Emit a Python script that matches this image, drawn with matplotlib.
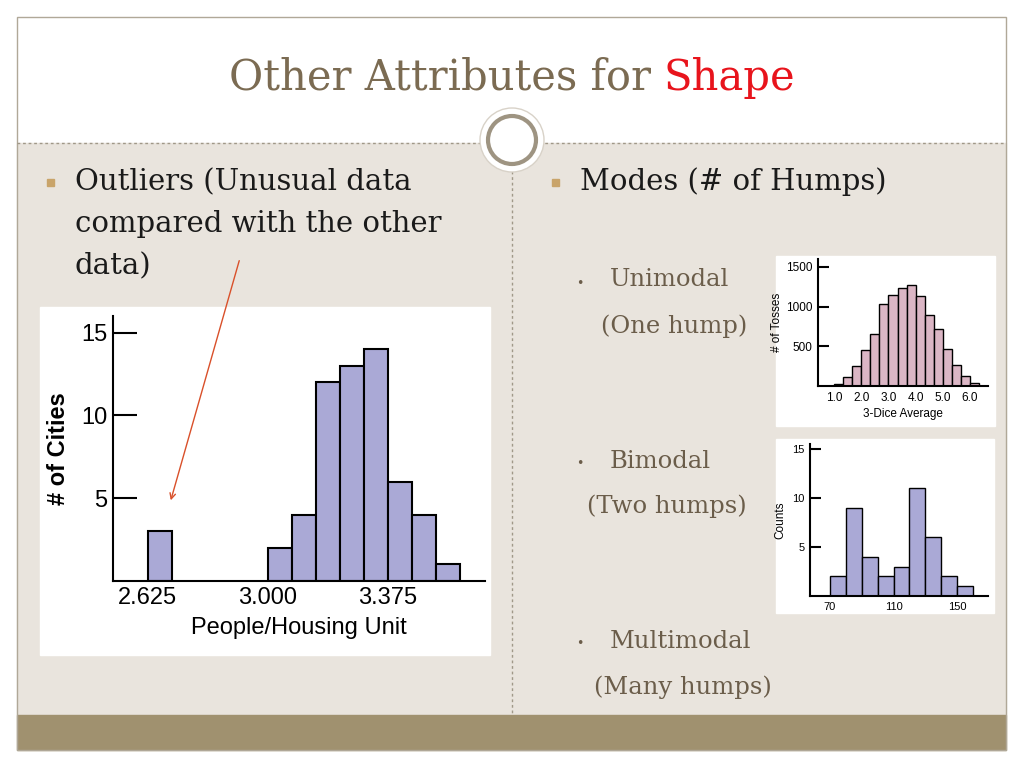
import matplotlib
matplotlib.use("Agg")
import matplotlib.pyplot as plt
from matplotlib.patches import Rectangle, Circle
from matplotlib import font_manager
import numpy as np

# ---- data ----
out_left_edges = [2.625]
out_left_counts = [3]
out_main_start = 3.0
out_main_counts = [2, 4, 12, 13, 14, 6, 4, 1]
out_bin = 0.075
out_ticks = [2.625, 3.000, 3.375]
out_ticklabels = ["2.625", "3.000", "3.375"]

uni_start = 1.0
uni_bin = 1/3
uni_counts = [30, 110, 250, 450, 660, 1030, 1150, 1230, 1270, 1140, 900, 720, 470, 270, 130, 40]
uni_xticks = [1.0, 2.0, 3.0, 4.0, 5.0, 6.0]

bi_start = 70
bi_bin = 10
bi_counts = [2, 9, 4, 2, 3, 11, 6, 2, 1]
bi_xticks = [70, 110, 150]

names = {f.name for f in font_manager.fontManager.ttflist}
narrow = "Liberation Sans Narrow" if "Liberation Sans Narrow" in names else "Liberation Sans"

W, H = 1024, 768
fig = plt.figure(figsize=(10.24, 7.68), dpi=100)
bg = fig.add_axes([0, 0, 1, 1])
bg.set_xlim(0, W); bg.set_ylim(H, 0); bg.axis("off")

bg.add_patch(Rectangle((17, 143), 989, 572, color="#e9e4dd", zorder=0))
bg.add_patch(Rectangle((17, 715), 989, 35, color="#a0916f", zorder=0))
bg.add_patch(Rectangle((17, 17), 989, 733, fill=False, ec="#b0a898", lw=1, zorder=1))
bg.plot([17, 1006], [143, 143], ls=(0, (2, 2)), color="#a09888", lw=1)
bg.plot([512, 512], [160, 715], ls=(0, (2, 2)), color="#a09888", lw=1)
bg.add_patch(Circle((512, 140), 32, fc="white", ec="#d8d2c8", lw=1, zorder=3))
bg.add_patch(Circle((512, 140), 24, fc="white", ec="#9e9482", lw=3, zorder=4))

serif = "DejaVu Serif"
t1 = bg.text(512, 78, "Other Attributes for ", fontsize=30, family=serif, color="#7b6b52",
             ha="left", va="center")
t2 = bg.text(512, 78, "Shape", fontsize=30, family=serif, color="#e8141c", ha="left", va="center")
fig.canvas.draw()
r = fig.canvas.get_renderer()
w1 = t1.get_window_extent(r).width; w2 = t2.get_window_extent(r).width
start = 512 - (w1 + w2) / 2
t1.set_x(start); t2.set_x(start + w1)

for y, s in [(182, "Outliers (Unusual data"), (224, "compared with the other"), (266, "data)")]:
    bg.text(75, y, s, fontsize=21, family=serif, color="#1a1a1a", va="center")
bg.add_patch(Rectangle((47, 179), 7, 7, color="#c9a46a"))
bg.text(580, 182, "Modes (# of Humps)", fontsize=21, family=serif, color="#1a1a1a", va="center")
bg.add_patch(Rectangle((552, 179), 7, 7, color="#c9a46a"))
for (x, y, s) in [(610, 280, "Unimodal"), (601, 326, "(One hump)"), (610, 461, "Bimodal"),
                  (587, 506, "(Two humps)"), (610, 641, "Multimodal"), (594, 687, "(Many humps)")]:
    bg.text(x, y, s, fontsize=17.5, family=serif, color="#6b5d4a", va="center")
for y in [283, 464, 644]:
    bg.text(580, y, "•", fontsize=9, color="#6b5d4a", va="center", ha="center")

bg.add_patch(Rectangle((40, 307), 450, 348, color="white", zorder=2))
bg.add_patch(Rectangle((776, 256), 219, 170, color="white", zorder=2))
bg.add_patch(Rectangle((776, 439), 218, 174, color="white", zorder=2))
bg.annotate("", xy=(170, 503), xytext=(240, 258),
            arrowprops=dict(arrowstyle="->", color="#d9502a", lw=1), zorder=10)

def ax_px(x0, y0, x1, y1):
    return fig.add_axes([x0 / W, 1 - y1 / H, (x1 - x0) / W, (y1 - y0) / H])

def style(ax, fs):
    for s in ["top", "right"]:
        ax.spines[s].set_visible(False)
    for s in ["left", "bottom"]:
        ax.spines[s].set_linewidth(1.5)
    ax.patch.set_alpha(0)
    ax.tick_params(axis="y", direction="in", length=fs, width=1.5, labelsize=fs, pad=4)
    ax.tick_params(axis="x", length=0, labelsize=fs, pad=4)
    for lab in ax.get_xticklabels() + ax.get_yticklabels():
        lab.set_family(narrow)

# chart 1
ax1 = ax_px(113, 316, 485, 581)
ax1.bar(out_left_edges, out_left_counts, width=out_bin, align="edge", color="#aaa9d6", ec="black", lw=1.5)
edges = out_main_start + out_bin * np.arange(len(out_main_counts))
ax1.bar(edges, out_main_counts, width=out_bin, align="edge", color="#aaa9d6", ec="black", lw=1.5)
ax1.set_xlim(2.516, 3.678); ax1.set_ylim(0, 16)
ax1.set_yticks([5, 10, 15]); ax1.set_xticks(out_ticks, out_ticklabels)
style(ax1, 17)
ax1.tick_params(axis="y", length=17)
ax1.set_xlabel("People/Housing Unit", fontsize=17, labelpad=6, family=narrow)
ax1.set_ylabel("# of Cities", fontsize=17, labelpad=8, family=narrow, fontweight="bold")

# chart 2
ax2 = ax_px(818, 259, 988, 386)
e2 = uni_start + uni_bin * np.arange(len(uni_counts))
ax2.bar(e2, uni_counts, width=uni_bin, align="edge", color="#dbb6c5", ec="black", lw=1)
ax2.set_xlim(0.41, 6.66); ax2.set_ylim(0, 1600)
ax2.set_yticks([500, 1000, 1500]); ax2.set_xticks(uni_xticks, [f"{v:.1f}" for v in uni_xticks])
style(ax2, 8.5)
ax2.tick_params(axis="y", length=8)
ax2.set_xlabel("3-Dice Average", fontsize=8.5, labelpad=3, family=narrow)
ax2.set_ylabel("# of Tosses", fontsize=8.5, labelpad=2, family=narrow)

# chart 3
ax3 = ax_px(810, 444, 988, 596)
e3 = bi_start + bi_bin * np.arange(len(bi_counts))
ax3.bar(e3, bi_counts, width=bi_bin, align="edge", color="#aaa9d6", ec="black", lw=1)
ax3.set_xlim(57.4, 169.5); ax3.set_ylim(0, 15.5)
ax3.set_yticks([5, 10, 15]); ax3.set_xticks(bi_xticks)
style(ax3, 8)
ax3.set_ylabel("Counts", fontsize=8.5, labelpad=4, family=narrow)

fig.savefig("out.png", dpi=100)
